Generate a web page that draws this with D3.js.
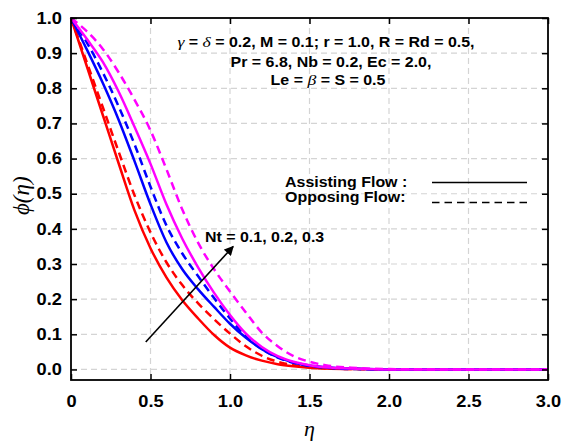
<!DOCTYPE html>
<html>
<head>
<meta charset="utf-8">
<script src="https://cdn.jsdelivr.net/npm/d3@7"></script>
<style>
  body { margin: 0; background: #fff; }
  text { font-family: "Liberation Sans", Arial, sans-serif; font-weight: bold; }
  .greek { font-family: "Liberation Serif", "DejaVu Serif", serif; font-style: italic; font-weight: normal; }
</style>
</head>
<body>
<script>
// eta values (x axis) shared by all curves
var eta = [0, 0.1, 0.2, 0.3, 0.4, 0.5, 0.6, 0.7, 0.8, 0.9, 1.0, 1.1, 1.2, 1.3, 1.4, 1.5, 1.6, 1.8, 2.0, 2.5, 3.0];

// phi(eta), assisting flow (solid) for Nt = 0.1, 0.2, 0.3
var assistNt1 = [1, 0.862, 0.724, 0.586, 0.452, 0.345, 0.262, 0.197, 0.145, 0.098, 0.062, 0.040, 0.025, 0.015, 0.009, 0.005, 0.003, 0.001, 0, 0, 0];
var assistNt2 = [1, 0.910, 0.815, 0.710, 0.592, 0.470, 0.362, 0.285, 0.228, 0.178, 0.130, 0.090, 0.058, 0.035, 0.020, 0.011, 0.006, 0.002, 0, 0, 0];
var assistNt3 = [1, 0.940, 0.875, 0.790, 0.690, 0.585, 0.470, 0.372, 0.290, 0.218, 0.155, 0.102, 0.064, 0.038, 0.022, 0.012, 0.006, 0.002, 0, 0, 0];

// phi(eta), opposing flow (dashed)
var opposeNt1 = [1, 0.873, 0.746, 0.619, 0.495, 0.390, 0.305, 0.240, 0.188, 0.143, 0.102, 0.066, 0.039, 0.022, 0.012, 0.006, 0.003, 0.001, 0, 0, 0];
var opposeNt2 = [1, 0.930, 0.845, 0.748, 0.640, 0.520, 0.410, 0.330, 0.265, 0.203, 0.145, 0.094, 0.058, 0.034, 0.019, 0.010, 0.005, 0.001, 0, 0, 0];
var opposeNt3 = [1, 0.962, 0.912, 0.845, 0.767, 0.680, 0.570, 0.455, 0.360, 0.285, 0.222, 0.162, 0.105, 0.066, 0.038, 0.022, 0.012, 0.004, 0.001, 0, 0];

var colors = ["#ff0000", "#0000ff", "#ff00ff"];

// tick values
var xTicks = [0, 0.5, 1.0, 1.5, 2.0, 2.5, 3.0];
var xTickLabels = ["0", "0.5", "1.0", "1.5", "2.0", "2.5", "3.0"];
var yTicks = [0, 0.1, 0.2, 0.3, 0.4, 0.5, 0.6, 0.7, 0.8, 0.9, 1.0];

// arrow for increasing Nt (data coords)
var arrowFrom = [0.47, 0.078];
var arrowTo = [1.02, 0.35];

var W = 562, H = 442;
var margin = {top: 18, right: 14, bottom: 62, left: 71},
    width = W - margin.left - margin.right,
    height = H - margin.top - margin.bottom;

// the original text is a bit wider than Arial, stretch it
var sx = 1.14;

var x = d3.scaleLinear().domain([0, 3]).range([0, width]);
var y = d3.scaleLinear().domain([-0.03, 1]).range([height, 0]);

var svg = d3.select("body").append("svg")
    .attr("width", W)
    .attr("height", H)
  .append("g")
    .attr("transform", "translate(" + margin.left + "," + margin.top + ")");

function place(sel, px, py) {
  return sel.attr("transform", "translate(" + px + "," + py + ") scale(" + sx + ",1)");
}

// grid
svg.append("g").selectAll("line")
    .data(xTicks.slice(1, -1))
  .enter().append("line")
    .attr("x1", function(d) { return x(d); })
    .attr("x2", function(d) { return x(d); })
    .attr("y1", 0).attr("y2", height)
    .attr("stroke", "#d4d4d4").attr("stroke-width", 1.2)
    .attr("stroke-dasharray", "6,4");

svg.append("g").selectAll("line")
    .data(yTicks.slice(0, -1))
  .enter().append("line")
    .attr("x1", 0).attr("x2", width)
    .attr("y1", function(d) { return y(d); })
    .attr("y2", function(d) { return y(d); })
    .attr("stroke", "#d4d4d4").attr("stroke-width", 1.2)
    .attr("stroke-dasharray", "6,4");

// curves
var line = d3.line()
    .x(function(d, i) { return x(eta[i]); })
    .y(function(d) { return y(d); })
    .curve(d3.curveMonotoneX);

var series = [
  {v: assistNt1, c: colors[0], dash: null},
  {v: opposeNt1, c: colors[0], dash: "8,5"},
  {v: assistNt2, c: colors[1], dash: null},
  {v: opposeNt2, c: colors[1], dash: "8,5"},
  {v: assistNt3, c: colors[2], dash: null},
  {v: opposeNt3, c: colors[2], dash: "8,5"}
];

series.forEach(function(s) {
  svg.append("path")
      .datum(s.v)
      .attr("d", line)
      .attr("fill", "none")
      .attr("stroke", s.c)
      .attr("stroke-width", 2.5)
      .attr("stroke-dasharray", s.dash);
});

// axes: ticks inward on all four sides
svg.append("g")
    .attr("transform", "translate(0," + height + ")")
    .call(d3.axisBottom(x).tickValues(xTicks).tickSize(-6).tickPadding(16)
      .tickFormat(function(d, i) { return xTickLabels[i]; }))
    .call(function(g) {
      g.select(".domain").remove();
      g.selectAll("text").attr("font-size", 16).attr("font-family", null)
        .attr("transform", "scale(" + sx + ",1)");
      g.selectAll("line").attr("stroke-width", 1.5);
    });

svg.append("g")
    .call(d3.axisLeft(y).tickValues(yTicks).tickSize(-6).tickPadding(8)
      .tickFormat(d3.format(".1f")))
    .call(function(g) {
      g.select(".domain").remove();
      g.selectAll("text").attr("font-size", 16).attr("font-family", null)
        .attr("transform", "scale(" + sx + ",1)");
      g.selectAll("line").attr("stroke-width", 1.5);
    });

svg.append("g")
    .call(d3.axisTop(x).tickValues(xTicks).tickSize(-6).tickFormat(""))
    .call(function(g) {
      g.select(".domain").remove();
      g.selectAll("line").attr("stroke-width", 1.5);
    });

svg.append("g")
    .attr("transform", "translate(" + width + ",0)")
    .call(d3.axisRight(y).tickValues(yTicks).tickSize(-6).tickFormat(""))
    .call(function(g) {
      g.select(".domain").remove();
      g.selectAll("line").attr("stroke-width", 1.5);
    });

// frame
svg.append("rect")
    .attr("width", width).attr("height", height)
    .attr("fill", "none").attr("stroke", "#000").attr("stroke-width", 1.8);

// axis titles
svg.append("text")
    .attr("class", "greek")
    .attr("x", x(1.5)).attr("y", height + 56)
    .attr("text-anchor", "middle")
    .attr("font-size", 22)
    .text("η");

svg.append("text")
    .attr("class", "greek")
    .attr("transform", "translate(-42," + (y(0.5) + 2) + ") rotate(-90)")
    .attr("text-anchor", "middle")
    .attr("font-size", 23)
    .text("ϕ(η)");

// parameter note
var note1 = place(svg.append("text"), 255, 28.5)
    .attr("text-anchor", "middle").attr("font-size", 14);
note1.append("tspan").attr("class", "greek").attr("font-size", 15.5).text("γ");
note1.append("tspan").text(" = ");
note1.append("tspan").attr("class", "greek").attr("font-size", 15.5).text("δ");
note1.append("tspan").text(" = 0.2, M = 0.1; r = 1.0, R = Rd = 0.5,");

place(svg.append("text"), 260, 48.5)
    .attr("text-anchor", "middle").attr("font-size", 14)
    .text("Pr = 6.8, Nb = 0.2, Ec = 2.0,");

var note3 = place(svg.append("text"), 257, 67)
    .attr("text-anchor", "middle").attr("font-size", 14);
note3.append("tspan").text("Le = ");
note3.append("tspan").attr("class", "greek").attr("font-size", 15.5).text("β");
note3.append("tspan").text(" = S = 0.5");

// legend
place(svg.append("text"), 214, 168.7).attr("font-size", 14).text("Assisting Flow :");
place(svg.append("text"), 214, 183.7).attr("font-size", 14).text("Opposing Flow:");
svg.append("line")
    .attr("x1", 361).attr("x2", 456).attr("y1", 164.5).attr("y2", 164.5)
    .attr("stroke", "#000").attr("stroke-width", 1.6);
svg.append("line")
    .attr("x1", 361).attr("x2", 456).attr("y1", 184.5).attr("y2", 184.5)
    .attr("stroke", "#000").attr("stroke-width", 1.6)
    .attr("stroke-dasharray", "7.5,5");

// arrow + label
svg.append("defs").append("marker")
    .attr("id", "head")
    .attr("viewBox", "0 0 10 10")
    .attr("refX", 9).attr("refY", 5)
    .attr("markerWidth", 6.5).attr("markerHeight", 6)
    .attr("orient", "auto")
  .append("path")
    .attr("d", "M0,0 L10,5 L0,10 z")
    .attr("fill", "#000");

svg.append("line")
    .attr("x1", x(arrowFrom[0])).attr("y1", y(arrowFrom[1]))
    .attr("x2", x(arrowTo[0])).attr("y2", y(arrowTo[1]))
    .attr("stroke", "#000").attr("stroke-width", 1.6)
    .attr("marker-end", "url(#head)");

place(svg.append("text"), 134, 224)
    .attr("font-size", 14)
    .text("Nt = 0.1, 0.2, 0.3");
</script>
</body>
</html>
